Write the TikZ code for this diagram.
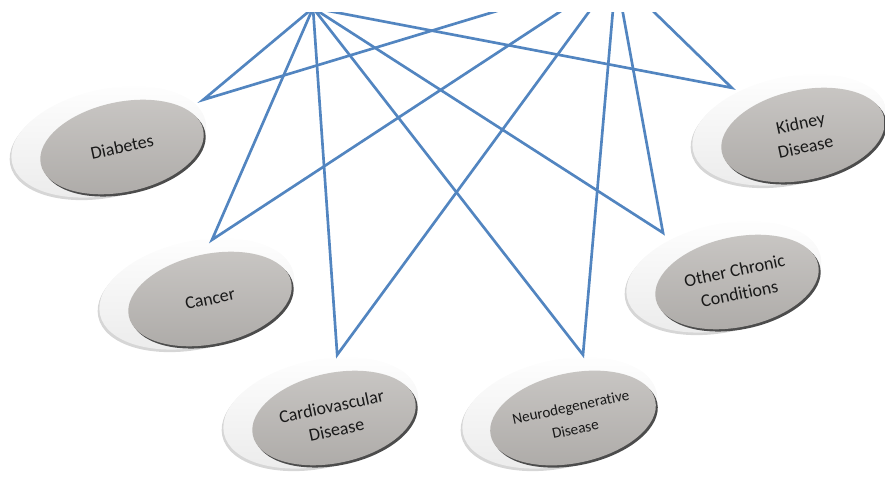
\documentclass[tikz,border=0pt]{standalone}
\usepackage{fontspec}
\setmainfont{Carlito}[Ligatures=NoCommon]
\usetikzlibrary{shapes,shadows,backgrounds,positioning}
\definecolor{linkblue}{RGB}{82,133,192}
\definecolor{discolor}{RGB}{192,189,186}

\begin{document}
\begin{tikzpicture}[
    halo/.style={ellipse,rotate=12,minimum width=4.95cm,minimum height=2.65cm,
      top color=white,bottom color=black!8,
      drop shadow={shadow xshift=-1.2pt,shadow yshift=-1.8pt,fill=black!16,opacity=1}},
    disease/.style={ellipse,rotate=12,minimum width=4.15cm,minimum height=2.25cm,
      inner sep=0pt,align=center,text=black!90,font=\fontsize{12.8}{17}\selectfont,
      top color=discolor!85!white,bottom color=discolor!90!black,
      drop shadow={shadow xshift=1.4pt,shadow yshift=-1.6pt,fill=black!70,opacity=1}},
    link/.style={draw=linkblue,line width=1.9pt}]
  \useasboundingbox (0,0) rectangle (22.125,12.025);

  \node[disease] (diab) at (3.05,8.35) {Diabetes};
  \node[disease] (canc) at (5.25,4.55) {Cancer};
  \node[disease] (cardio) at (8.35,1.575) {Cardiovascular\\Disease};
  \node[disease,font=\fontsize{10.8}{16}\selectfont] (neuro) at (14.325,1.575) {Neurodegenerative\\Disease};
  \node[disease] (other) at (18.425,4.975) {Other Chronic\\Conditions};
  \node[disease] (kidney) at (20.075,8.65) {Kidney\\Disease};

  \begin{scope}[on background layer]
    \foreach \n in {diab,canc,cardio,neuro,other,kidney}
      \node[halo] (\n-halo) at ([shift={(-0.33,0.13)}]\n.center) {};
  \end{scope}

  \coordinate (hubL) at (7.825,11.825);
  \coordinate (hubR) at (15.4,12.65);
  \coordinate (diab-tip) at ([shift={(2.03,1.18)}]diab.center);
  \coordinate (canc-tip) at ([shift={(0.05,1.48)}]canc.center);
  \coordinate (cardio-tip) at ([shift={(0.08,1.58)}]cardio.center);
  \coordinate (neuro-tip) at ([shift={(0.25,1.58)}]neuro.center);
  \coordinate (other-tip) at ([shift={(-1.85,1.23)}]other.center);
  \coordinate (kidney-tip) at ([shift={(-1.78,1.18)}]kidney.center);

  \begin{scope}
    \clip (0,0) rectangle (22.125,11.7);
    \foreach \n in {diab,canc,cardio,neuro,other,kidney}
      \draw[link] (hubL) -- (\n-tip) -- (hubR);
  \end{scope}
\end{tikzpicture}
\end{document}
